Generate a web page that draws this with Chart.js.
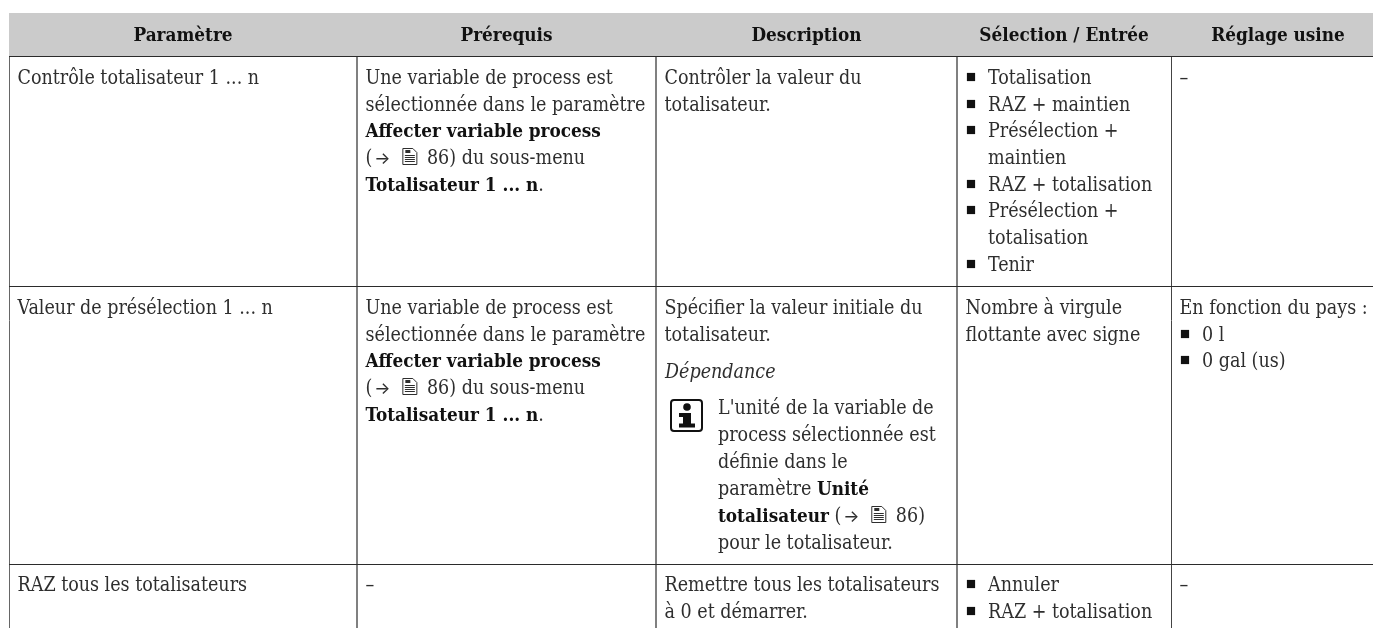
<!DOCTYPE html>
<html lang="fr">
<head>
<meta charset="utf-8">
<title>Paramètres du totalisateur</title>
<script src="https://cdn.jsdelivr.net/npm/chart.js@4/dist/chart.umd.min.js"></script>
<style>
    html, body { margin: 0; padding: 0; background: #fff; overflow: hidden; }
    canvas { display: block; }
</style>
</head>
<body>
<canvas id="tableChart" width="1373" height="628"></canvas>
<script>
// Table content. Markup inside a line: *bold*, _italic_, [ref] = arrow + page icon, "- " = bullet
const headers = ['Paramètre', 'Prérequis', 'Description', 'Sélection / Entrée', 'Réglage usine'];

const row1 = [
    ['Contrôle totalisateur 1 ... n'],
    ['Une variable de process est', 'sélectionnée dans le paramètre', '*Affecter variable process*', '([ref] 86) du sous-menu', '*Totalisateur 1 ... n*.'],
    ['Contrôler la valeur du', 'totalisateur.'],
    ['- Totalisation', '- RAZ + maintien', '- Présélection +', '  maintien', '- RAZ + totalisation', '- Présélection +', '  totalisation', '- Tenir'],
    ['–']
];

const row2 = [
    ['Valeur de présélection 1 ... n'],
    ['Une variable de process est', 'sélectionnée dans le paramètre', '*Affecter variable process*', '([ref] 86) du sous-menu', '*Totalisateur 1 ... n*.'],
    ['Spécifier la valeur initiale du', 'totalisateur.'],
    ['Nombre à virgule', 'flottante avec signe'],
    ['En fonction du pays :', '- 0 l', '- 0 gal (us)']
];

const row2Note = ['_Dépendance_'];
const row2NoteBody = ["L'unité de la variable de", 'process sélectionnée est', 'définie dans le', 'paramètre *Unité*', '*totalisateur* ([ref] 86)', 'pour le totalisateur.'];

const row3 = [
    ['RAZ tous les totalisateurs'],
    ['–'],
    ['Remettre tous les totalisateurs', 'à 0 et démarrer.'],
    ['- Annuler', '- RAZ + totalisation'],
    ['–']
];

const rows = [row1, row2, row3];

// Table rules in page pixels, used as the tick values of the two axes
const columnEdges = [9, 357, 656, 957, 1171];
const rowEdges = [13, 56, 286, 564];
const rowBaselines = [84, 314, 591];
const tableRight = 1385;

const FONT = '"DejaVu Serif Condensed", "DejaVu Serif", serif';
const SIZE = 19.5;
const BOLD_SIZE = 18.8;
const LINE = 26.67;
const INK = '#2e2e2e';

function fontFor(style) {
    if (style === 'b') return `bold ${BOLD_SIZE}px ${FONT}`;
    if (style === 'i') return `italic ${SIZE}px ${FONT}`;
    return `${SIZE}px ${FONT}`;
}

function splitRuns(text) {
    const runs = [];
    text.split(/(\*[^*]+\*|_[^_]+_|\[ref\])/).forEach(part => {
        if (!part) return;
        if (part === '[ref]') runs.push({ ref: true });
        else if (part[0] === '*') runs.push({ text: part.slice(1, -1), style: 'b' });
        else if (part[0] === '_') runs.push({ text: part.slice(1, -1), style: 'i' });
        else runs.push({ text: part, style: 'n' });
    });
    return runs;
}

function drawDocIcon(ctx, x, y) {
    ctx.save();
    ctx.strokeStyle = INK;
    ctx.lineWidth = 1;
    ctx.beginPath();
    ctx.moveTo(x + 0.5, y - 15.5);
    ctx.lineTo(x + 10.5, y - 15.5);
    ctx.lineTo(x + 14.5, y - 11.5);
    ctx.lineTo(x + 14.5, y + 0.5);
    ctx.lineTo(x + 0.5, y + 0.5);
    ctx.closePath();
    ctx.stroke();
    ctx.beginPath();
    [-8.5, -6.5, -4.5, -2.5].forEach(dy => {
        ctx.moveTo(x + 2.5, y + dy);
        ctx.lineTo(x + 12.5, y + dy);
    });
    ctx.stroke();
    ctx.fillStyle = INK;
    ctx.fillRect(x + 3, y - 14, 5, 3);
    ctx.restore();
}

function drawRef(ctx, x, y) {
    ctx.font = '17px Inter';
    ctx.fillStyle = INK;
    ctx.fillText('→', x + 2, y);
    drawDocIcon(ctx, x + 30, y);
    return 49;
}

function drawLine(ctx, text, x, y) {
    let cx = x;
    const by = Math.round(y);
    splitRuns(text).forEach(run => {
        if (run.ref) {
            cx += drawRef(ctx, cx, by);
            return;
        }
        ctx.font = fontFor(run.style);
        ctx.fillStyle = run.style === 'b' ? '#111' : INK;
        ctx.fillText(run.text, cx, by);
        cx += ctx.measureText(run.text).width;
    });
}

function drawBlock(ctx, lines, xText, xBullet, y0) {
    lines.forEach((line, i) => {
        const indented = line.startsWith('- ') || line.startsWith('  ');
        drawLine(ctx, line.replace(/^(- |  )/, ''), indented ? xBullet : xText, y0 + i * LINE);
    });
}

function bulletPoints() {
    const pts = [];
    rows.forEach((row, r) => {
        row.forEach((lines, c) => {
            lines.forEach((line, i) => {
                if (line.startsWith('- ')) {
                    pts.push({ x: columnEdges[c] + 14, y: Math.round(rowBaselines[r] + i * LINE) - 7 });
                }
            });
        });
    });
    return pts;
}

const tableText = {
    id: 'tableText',
    afterDatasetsDraw(chart) {
        const { ctx, scales: { x, y } } = chart;
        ctx.save();
        ctx.textBaseline = 'alphabetic';

        // header row
        ctx.font = `bold ${BOLD_SIZE}px ${FONT}`;
        ctx.fillStyle = '#111';
        ctx.textAlign = 'center';
        headers.forEach((h, c) => {
            const right = c < columnEdges.length - 1 ? columnEdges[c + 1] : tableRight;
            ctx.fillText(h, x.getPixelForValue((columnEdges[c] + right) / 2), y.getPixelForValue(41));
        });
        ctx.textAlign = 'left';

        rows.forEach((row, r) => {
            row.forEach((lines, c) => {
                const left = columnEdges[c];
                drawBlock(ctx, lines, x.getPixelForValue(left + 8.5), x.getPixelForValue(left + 31), y.getPixelForValue(rowBaselines[r]));
            });
        });

        // note inside the description cell of row 2
        const noteX = x.getPixelForValue(columnEdges[2] + 9);
        drawLine(ctx, row2Note[0], noteX, y.getPixelForValue(378));
        row2NoteBody.forEach((line, i) => {
            drawLine(ctx, line, x.getPixelForValue(columnEdges[2] + 62), y.getPixelForValue(414 + i * 27));
        });

        // info icon
        const ix = x.getPixelForValue(671), iy = y.getPixelForValue(400);
        ctx.strokeStyle = '#111';
        ctx.lineWidth = 2;
        ctx.beginPath();
        ctx.roundRect(ix, iy, 31, 31, 3);
        ctx.stroke();
        ctx.fillStyle = '#111';
        ctx.beginPath();
        ctx.arc(ix + 16, iy + 7, 3.8, 0, Math.PI * 2);
        ctx.fill();
        ctx.fillRect(ix + 8, iy + 13, 12, 4);
        ctx.fillRect(ix + 12, iy + 13, 8, 14);
        ctx.fillRect(ix + 8, iy + 23.5, 16, 4);
        ctx.restore();
    }
};

new Chart(document.getElementById('tableChart'), {
    type: 'scatter',
    data: {
        datasets: [
            {
                // header band
                type: 'line',
                data: [{ x: columnEdges[0], y: rowEdges[0] }, { x: 1373, y: rowEdges[0] }],
                fill: { value: rowEdges[1] },
                backgroundColor: '#cbcbcb',
                borderWidth: 0,
                pointRadius: 0
            },
            {
                // list bullets
                data: bulletPoints(),
                pointStyle: 'rect',
                pointRadius: 5.8,
                backgroundColor: '#111',
                borderWidth: 0
            }
        ]
    },
    plugins: [tableText],
    options: {
        responsive: false,
        animation: false,
        events: [],
        layout: { autoPadding: false, padding: { left: 9, top: 13, right: 0, bottom: 0 } },
        plugins: { legend: { display: false }, tooltip: { enabled: false } },
        scales: {
            x: {
                type: 'linear',
                min: 9,
                max: 1373,
                afterBuildTicks: axis => { axis.ticks = columnEdges.map(value => ({ value })); },
                ticks: { display: false },
                border: { display: false },
                grid: {
                    drawTicks: false,
                    tickLength: 0,
                    color: c => (c.tick.value === 1171 ? '#444' : c.tick.value === 9 ? '#666' : '#808080'),
                    lineWidth: c => ([357, 656, 957].includes(c.tick.value) ? 2 : 1)
                }
            },
            y: {
                type: 'linear',
                reverse: true,
                min: 13,
                max: 628,
                afterBuildTicks: axis => { axis.ticks = rowEdges.map(value => ({ value })); },
                ticks: { display: false },
                border: { display: false },
                grid: {
                    drawTicks: false,
                    tickLength: 0,
                    color: c => (c.tick.value === 13 ? '#666' : '#2b2b2b'),
                    lineWidth: 1
                }
            }
        }
    }
});
</script>
</body>
</html>
